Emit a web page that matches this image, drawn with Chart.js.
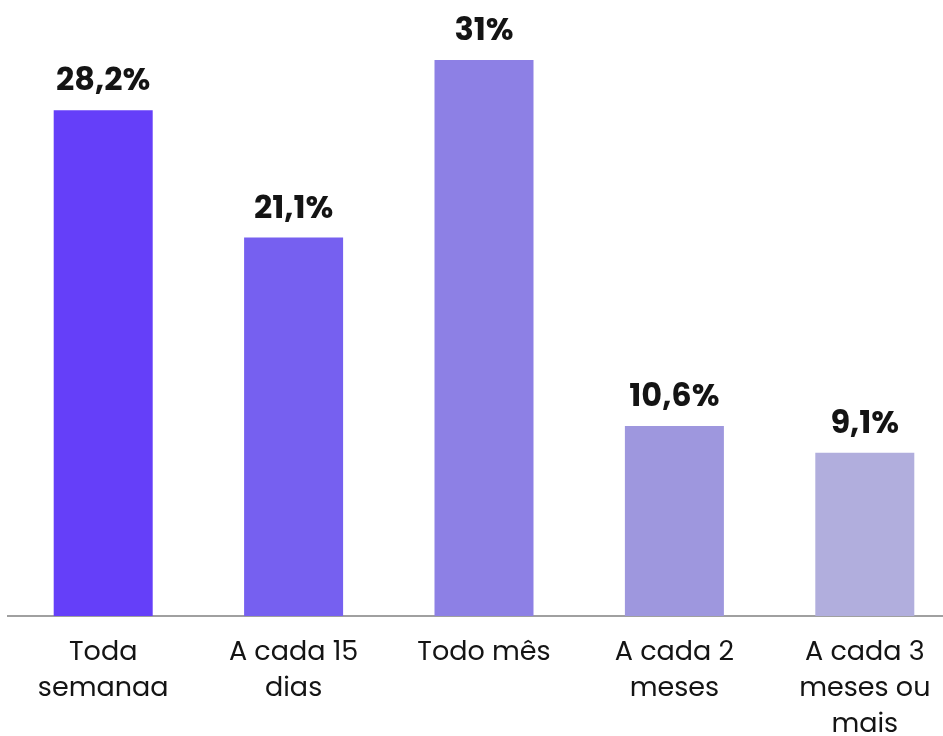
<!DOCTYPE html>
<html lang="pt-BR">
<head>
<meta charset="utf-8">
<title>Frequência</title>
<script src="https://cdn.jsdelivr.net/npm/chart.js@4.4.1/dist/chart.umd.min.js"></script>
<style>
  html, body { margin: 0; padding: 0; background: #fff; overflow: hidden; }
  /* o canvas é um pouco maior que a área visível: o último rótulo fica cortado embaixo */
  #wrap { width: 943px; height: 736px; overflow: hidden; }
</style>
</head>
<body>
<div id="wrap"><canvas id="freqChart" width="960" height="762"></canvas></div>
<script>
// categorias (quebradas em linhas) e valores em %
const categorias = [
  ['Toda', 'semanaa'],
  ['A cada 15', 'dias'],
  ['Todo mês'],
  ['A cada 2', 'meses'],
  ['A cada 3', 'meses ou', 'mais']
];
const valores = [28.2, 21.1, 31, 10.6, 9.1];
const cores = ['#653ff9', '#7660f0', '#8d80e5', '#9e97de', '#b1aedd'];

const fonte = 'Poppins, Inter, "Noto Sans", sans-serif';

// escreve o valor em cima de cada barra
const rotulosValor = {
  id: 'rotulosValor',
  afterDatasetsDraw(chart) {
    const ctx = chart.ctx;
    const meta = chart.getDatasetMeta(0);
    ctx.save();
    ctx.font = '700 32px ' + fonte;
    ctx.fillStyle = '#141414';
    ctx.textAlign = 'center';
    ctx.textBaseline = 'middle';
    meta.data.forEach((bar, i) => {
      const txt = String(valores[i]).replace('.', ',') + '%';
      ctx.fillText(txt, bar.x, bar.y - 28);
    });
    ctx.restore();
  }
};

const ctx = document.getElementById('freqChart').getContext('2d');
const freqChart = new Chart(ctx, {
  type: 'bar',
  data: {
    labels: categorias,
    datasets: [{
      data: valores,
      backgroundColor: cores,
      borderWidth: 0,
      barPercentage: 0.52,
      categoryPercentage: 1
    }]
  },
  options: {
    responsive: false,
    animation: false,
    layout: { padding: { left: 8, right: 0, top: 0, bottom: 0 } },
    plugins: {
      legend: { display: false },
      tooltip: { enabled: false }
    },
    scales: {
      x: {
        grid: { display: false, drawTicks: false },
        border: { display: true, color: '#a0a0a0', width: 2 },
        ticks: {
          color: '#141414',
          font: { family: fonte, size: 27, lineHeight: 1.333 },
          padding: 19,
          maxRotation: 0,
          autoSkip: false
        }
      },
      y: {
        display: false,
        min: 0,
        max: 34.35
      }
    }
  },
  plugins: [rotulosValor]
});
</script>
</body>
</html>
